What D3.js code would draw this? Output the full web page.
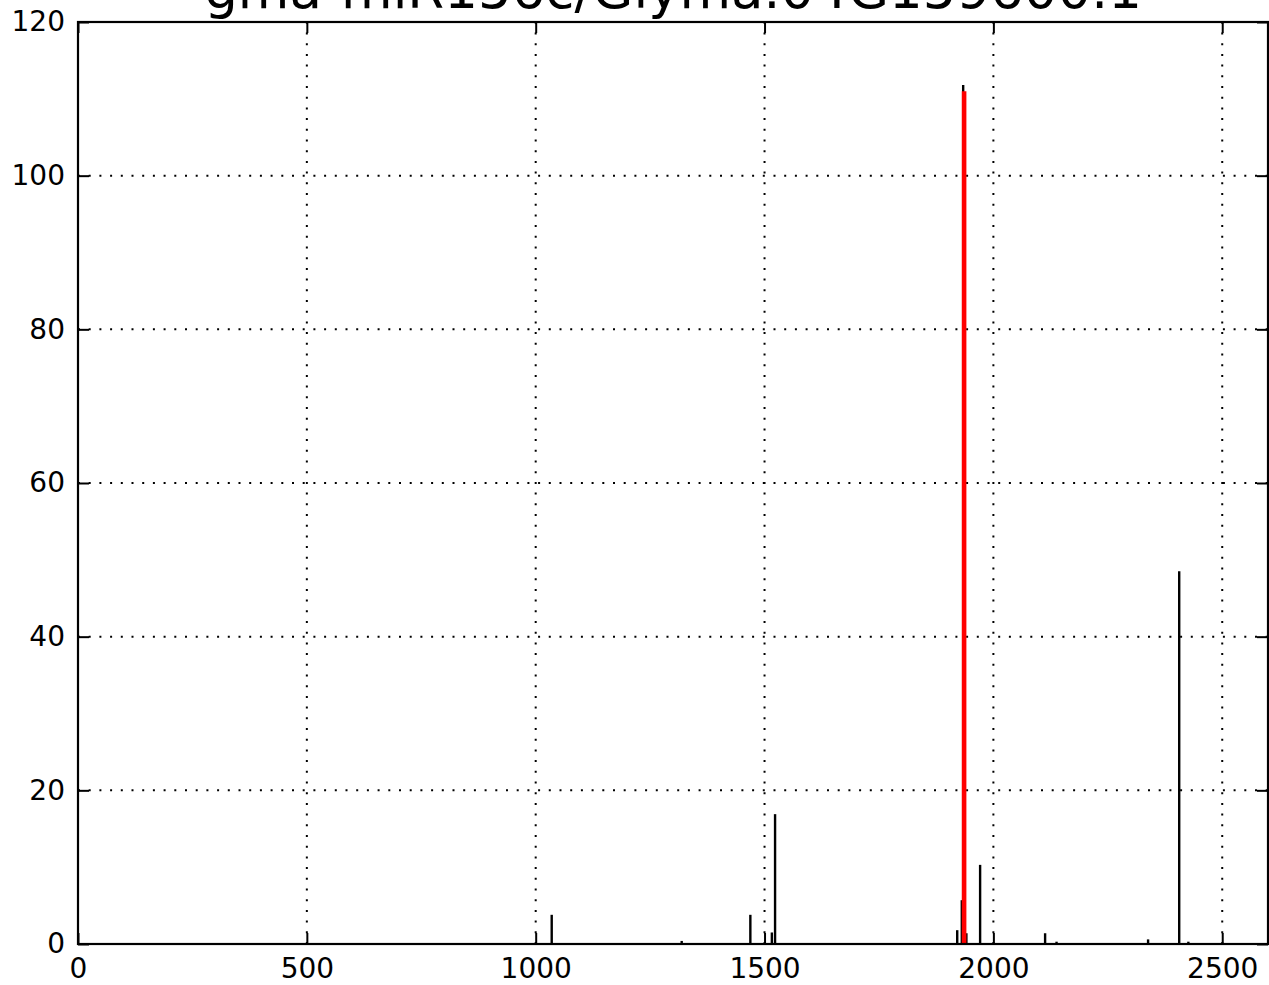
<!DOCTYPE html>
<html>
<head>
<meta charset="utf-8">
<script src="https://cdn.jsdelivr.net/npm/d3@7"></script>
<style>
  body { margin: 0; background: #fff; }
  svg { display: block; font-family: 'DejaVu Sans', sans-serif; }
</style>
</head>
<body>
<div class="container"></div>
<script>
var title = 'gma-miR156c/Glyma.04G159600.1';

// black vlines: position along transcript, read count
var positions = [1035, 1319, 1469, 1516, 1523, 1921, 1931, 1934, 1941, 1971, 2113, 2138, 2338, 2406, 2426];
var counts = [3.8, 0.4, 3.8, 1.5, 16.9, 1.8, 5.7, 111.8, 1.4, 10.3, 1.4, 0.3, 0.6, 48.5, 0.3];

// red line: the target site
var sitePos = [1936];
var siteCount = [111];

var xTicks = [0, 500, 1000, 1500, 2000, 2500];
var yTicks = [0, 20, 40, 60, 80, 100, 120];

buildChart();

function buildChart() {

  /* ===== SET UP CHART =====*/

  var w = 1269;
  var h = 985;
  var left = 78, right = 1268, top = 22, bottom = 944;

  var svg = d3.select('.container')
    .append('svg')
    .attr('width', w)
    .attr('height', h);

  var xScale = d3.scaleLinear()
    .domain([0, 2600])
    .range([left, right]);

  var yScale = d3.scaleLinear()
    .domain([0, 120])
    .range([bottom, top]);

  /* ===== GRID =====*/

  var grid = svg.append('g');
  grid.selectAll('.gx')
    .data(xTicks)
    .enter()
    .append('line')
    .attr('x1', function(d) { return xScale(d); })
    .attr('x2', function(d) { return xScale(d); })
    .attr('y1', bottom)
    .attr('y2', top)
    .attr('stroke', '#000')
    .attr('stroke-width', 2)
    .attr('stroke-dasharray', '2,8.7');

  grid.selectAll('.gy')
    .data(yTicks)
    .enter()
    .append('line')
    .attr('x1', left)
    .attr('x2', right)
    .attr('y1', function(d) { return yScale(d); })
    .attr('y2', function(d) { return yScale(d); })
    .attr('stroke', '#000')
    .attr('stroke-width', 2)
    .attr('stroke-dasharray', '2,8.7');

  /* ===== BARS =====*/

  svg.append('g')
    .selectAll('line')
    .data(positions)
    .enter()
    .append('line')
    .attr('x1', function(d) { return xScale(d); })
    .attr('x2', function(d) { return xScale(d); })
    .attr('y1', yScale(0))
    .attr('y2', function(d, i) { return yScale(counts[i]); })
    .attr('stroke', '#000')
    .attr('stroke-width', 2.4);

  svg.append('g')
    .selectAll('line')
    .data(sitePos)
    .enter()
    .append('line')
    .attr('x1', function(d) { return xScale(d); })
    .attr('x2', function(d) { return xScale(d); })
    .attr('y1', yScale(0))
    .attr('y2', function(d, i) { return yScale(siteCount[i]); })
    .attr('stroke', '#ff0000')
    .attr('stroke-width', 4.6);

  /* ===== AXES =====*/

  var tickLen = 11;

  var xAxis = d3.axisBottom(xScale)
    .tickValues(xTicks)
    .tickFormat(d3.format('d'))
    .tickSize(-tickLen)
    .tickPadding(14);

  var yAxis = d3.axisLeft(yScale)
    .tickValues(yTicks)
    .tickFormat(d3.format('d'))
    .tickSize(-tickLen)
    .tickPadding(13);

  var xTop = d3.axisTop(xScale).tickValues(xTicks).tickSize(-tickLen).tickFormat('');
  var yRight = d3.axisRight(yScale).tickValues(yTicks).tickSize(-tickLen).tickFormat('');

  var gx = svg.append('g')
    .attr('transform', 'translate(0,' + bottom + ')')
    .call(xAxis);
  var gy = svg.append('g')
    .attr('transform', 'translate(' + left + ',0)')
    .call(yAxis);
  var gxt = svg.append('g')
    .attr('transform', 'translate(0,' + top + ')')
    .call(xTop);
  var gyr = svg.append('g')
    .attr('transform', 'translate(' + right + ',0)')
    .call(yRight);

  [gx, gy, gxt, gyr].forEach(function(g) {
    g.select('.domain').remove();
    g.selectAll('.tick line')
      .attr('stroke', '#000')
      .attr('stroke-width', 2);
    g.selectAll('.tick text')
      .attr('fill', '#000')
      .style('font-size', '28px')
      .style('font-family', "'DejaVu Sans', sans-serif");
  });

  svg.append('rect')
    .attr('x', left)
    .attr('y', top)
    .attr('width', right - left)
    .attr('height', bottom - top)
    .attr('fill', 'none')
    .attr('stroke', '#000')
    .attr('stroke-width', 2.2);

  /* ===== TITLE =====*/

  svg.append('text')
    .text(title)
    .attr('x', (left + right) / 2)
    .attr('y', 8)
    .attr('text-anchor', 'middle')
    .attr('font-size', '53px')
    .attr('fill', '#000');
}
</script>
</body>
</html>
